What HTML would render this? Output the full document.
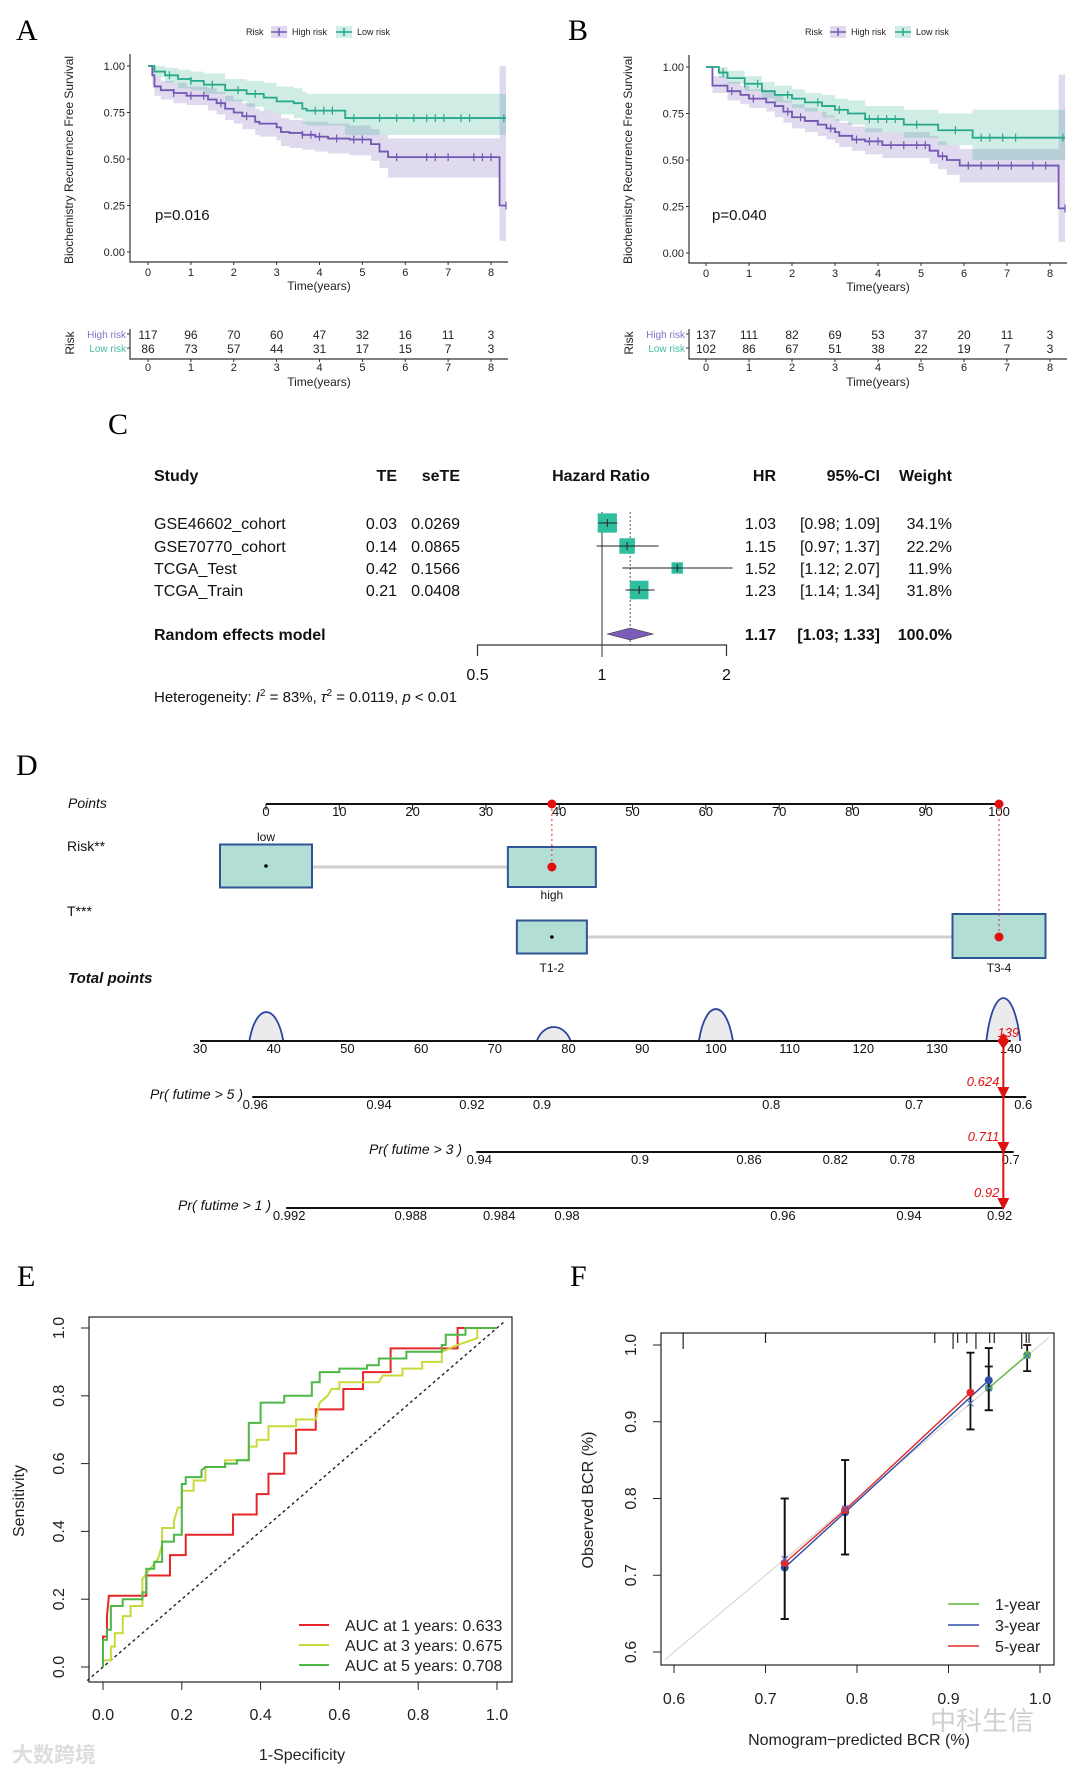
<!DOCTYPE html>
<html><head><meta charset="utf-8"><style>
html,body{margin:0;padding:0;background:#fff;}
svg{display:block;}
text{font-family:"Liberation Sans","Noto Sans CJK SC",sans-serif;}
.serif{font-family:"Liberation Serif",serif;}
</style></head><body>
<svg id="fig" width="1080" height="1775" viewBox="0 0 1080 1775" xmlns="http://www.w3.org/2000/svg"></svg>
<script>
// ---------- DATA ----------
const kmTicks = [0,1,2,3,4,5,6,7,8];
const survTicks = [0,0.25,0.5,0.75,1.0];
// Panel A
const aHighT  = [0,0.1,0.15,0.3,0.6,0.9,1.4,1.6,1.8,2.0,2.2,2.5,2.6,3.0,3.1,3.3,3.6,3.9,4.2,4.7,5.2,5.4,5.6,8.2];
const aHighS  = [1,0.95,0.89,0.87,0.855,0.84,0.82,0.80,0.77,0.75,0.73,0.70,0.69,0.67,0.645,0.64,0.63,0.62,0.61,0.605,0.58,0.54,0.51,0.25];
const aHighLo = [1,0.90,0.84,0.82,0.80,0.79,0.76,0.74,0.71,0.69,0.66,0.63,0.62,0.60,0.57,0.56,0.55,0.54,0.53,0.52,0.49,0.45,0.40,0.06];
const aHighHi = [1,0.99,0.94,0.92,0.91,0.89,0.88,0.86,0.84,0.82,0.80,0.77,0.76,0.74,0.72,0.71,0.70,0.70,0.69,0.68,0.66,0.63,0.61,1.0];
const aLowT  = [0,0.15,0.4,0.7,1.0,1.3,1.8,2.3,2.7,3.0,3.4,3.6,3.7,4.6];
const aLowS  = [1,0.97,0.95,0.93,0.92,0.90,0.87,0.85,0.83,0.81,0.80,0.77,0.76,0.72];
const aLowLo = [1,0.94,0.91,0.88,0.87,0.85,0.81,0.78,0.76,0.74,0.72,0.69,0.68,0.63];
const aLowHi = [1,1,0.99,0.98,0.97,0.96,0.93,0.92,0.91,0.89,0.88,0.86,0.85,0.85];
const aHighCens = [0.6,1.0,1.3,1.7,2.3,3.6,3.8,4.0,4.4,4.8,5.0,5.8,6.5,6.7,7.0,7.6,7.8,8.0,8.35];
const aLowCens  = [0.5,1.0,1.5,2.1,2.5,3.9,4.1,4.3,4.8,5.4,5.8,6.2,6.5,6.7,6.9,7.3,7.5,8.3];
const aHighRisk = [117,96,70,60,47,32,16,11,3];
const aLowRisk  = [86,73,57,44,31,17,15,7,3];
// Panel B
const bHighT  = [0,0.15,0.5,0.8,1.0,1.4,1.6,1.8,2.0,2.3,2.6,2.8,3.0,3.1,3.4,3.7,4.1,5.2,5.4,5.6,5.9,8.2];
const bHighS  = [1,0.90,0.87,0.85,0.83,0.81,0.79,0.76,0.73,0.71,0.69,0.67,0.65,0.63,0.61,0.60,0.58,0.55,0.52,0.50,0.47,0.24];
const bHighLo = [1,0.86,0.82,0.80,0.78,0.76,0.73,0.70,0.67,0.65,0.63,0.61,0.59,0.57,0.55,0.53,0.51,0.48,0.45,0.42,0.38,0.06];
const bHighHi = [1,0.95,0.92,0.90,0.88,0.87,0.85,0.82,0.80,0.78,0.76,0.74,0.72,0.70,0.68,0.67,0.65,0.63,0.60,0.58,0.56,0.96];
const bLowT  = [0,0.3,0.5,0.9,1.3,1.6,2.0,2.3,2.7,3.0,3.3,3.7,4.6,5.4,6.2];
const bLowS  = [1,0.97,0.94,0.91,0.87,0.85,0.83,0.81,0.79,0.77,0.75,0.72,0.69,0.66,0.62];
const bLowLo = [1,0.94,0.91,0.87,0.83,0.81,0.78,0.76,0.73,0.71,0.69,0.65,0.62,0.58,0.50];
const bLowHi = [1,1,0.98,0.95,0.92,0.90,0.88,0.86,0.85,0.83,0.82,0.79,0.77,0.75,0.77];
const bHighCens = [0.6,1.1,1.9,2.2,2.9,3.5,3.8,4.0,4.3,4.6,4.9,5.1,5.5,6.1,6.4,6.8,7.1,7.6,7.9,8.35];
const bLowCens  = [0.4,0.9,1.2,1.9,2.6,3.1,3.8,4.0,4.2,4.4,4.9,5.8,6.4,6.6,6.9,7.2,8.3];
const bHighRisk = [137,111,82,69,53,37,20,11,3];
const bLowRisk  = [102,86,67,51,38,22,19,7,3];
// Panel C (forest)
const studies = ["GSE46602_cohort","GSE70770_cohort","TCGA_Test","TCGA_Train"];
const teVals = ["0.03","0.14","0.42","0.21"];
const seteVals = ["0.0269","0.0865","0.1566","0.0408"];
const hrVals = [1.03,1.15,1.52,1.23];
const ciLo = [0.98,0.97,1.12,1.14];
const ciHi = [1.09,1.37,2.07,1.34];
const weights = [34.1,22.2,11.9,31.8];
const pooledHR = 1.17, pooledLo = 1.03, pooledHi = 1.33;
const forestTicks = [0.5,1,2];
// Panel D (nomogram)
const pointTicks = [0,10,20,30,40,50,60,70,80,90,100];
const riskPoints = [0,39];
const tPoints = [39,100];
const totalTicks = [30,40,50,60,70,80,90,100,110,120,130,140];
const humpCenters = [39,78,100,139];
const humpHeights = [29,14,32,43];
const pr5Labels = ["0.96","0.94","0.92","0.9","0.8","0.7","0.6"];
const pr5At = [37.5,54.3,66.9,76.4,107.5,126.9,141.7];
const pr3Labels = ["0.94","0.9","0.86","0.82","0.78","0.7"];
const pr3At = [67.9,89.7,104.5,116.2,125.3,140.0];
const pr1Labels = ["0.992","0.988","0.984","0.98","0.96","0.94","0.92"];
const pr1At = [42.1,58.6,70.6,79.8,109.1,126.2,138.5];
const totalScore = 139;
const predVals = ["0.624","0.711","0.92"];
// Panel E (ROC)
const rocTicks = [0,0.2,0.4,0.6,0.8,1.0];
const roc1x = [0,0,0.01,0.01,0.015,0.11,0.11,0.17,0.17,0.21,0.21,0.33,0.33,0.39,0.39,0.42,0.42,0.46,0.46,0.49,0.49,0.54,0.54,0.61,0.61,0.66,0.66,0.73,0.73,0.90,0.90,0.92,1];
const roc1y = [0,0.09,0.09,0.15,0.21,0.21,0.27,0.27,0.33,0.33,0.39,0.39,0.45,0.45,0.51,0.51,0.57,0.57,0.63,0.63,0.70,0.70,0.76,0.76,0.82,0.82,0.87,0.87,0.94,0.94,1.0,1.0,1];
const roc3x = [0,0,0.02,0.02,0.03,0.03,0.05,0.05,0.07,0.07,0.1,0.1,0.12,0.14,0.15,0.15,0.18,0.18,0.19,0.2,0.2,0.23,0.23,0.26,0.26,0.31,0.31,0.37,0.37,0.39,0.39,0.42,0.42,0.49,0.49,0.54,0.55,0.57,0.58,0.6,0.6,0.7,0.71,0.76,0.76,0.81,0.81,0.86,0.86,0.9,0.95,0.95,1];
const roc3y = [0,0.02,0.02,0.06,0.06,0.10,0.10,0.15,0.15,0.18,0.18,0.26,0.29,0.32,0.36,0.41,0.41,0.43,0.47,0.47,0.52,0.52,0.55,0.55,0.59,0.59,0.61,0.61,0.65,0.65,0.67,0.67,0.71,0.71,0.73,0.73,0.78,0.80,0.82,0.82,0.84,0.84,0.86,0.86,0.88,0.88,0.90,0.90,0.93,0.95,0.97,1,1];
const roc5x = [0,0,0.01,0.01,0.02,0.02,0.05,0.05,0.1,0.1,0.11,0.11,0.13,0.13,0.15,0.15,0.18,0.18,0.2,0.2,0.21,0.21,0.25,0.25,0.26,0.31,0.31,0.34,0.34,0.37,0.37,0.4,0.4,0.46,0.46,0.53,0.53,0.55,0.55,0.6,0.6,0.67,0.67,0.7,0.7,0.77,0.77,0.86,0.86,0.87,0.87,0.92,0.92,1];
const roc5y = [0,0.08,0.08,0.11,0.11,0.18,0.18,0.20,0.20,0.22,0.22,0.29,0.29,0.31,0.31,0.37,0.37,0.39,0.39,0.54,0.54,0.56,0.56,0.58,0.59,0.59,0.60,0.60,0.61,0.61,0.72,0.72,0.78,0.78,0.80,0.80,0.84,0.84,0.87,0.87,0.88,0.88,0.89,0.89,0.91,0.91,0.93,0.93,0.95,0.95,0.98,0.98,1,1];
const rocLabels = ["AUC at 1 years: 0.633","AUC at 3 years: 0.675","AUC at 5 years: 0.708"];
// Panel F (calibration)
const calTicks = [0.6,0.7,0.8,0.9,1.0];
const cal5Pred = [0.721,0.787,0.924];
const cal5Obs  = [0.716,0.785,0.938];
const cal5Lo   = [0.643,0.727,0.890];
const cal5Hi   = [0.800,0.850,0.990];
const cal3Pred = [0.721,0.787,0.944];
const cal3Obs  = [0.710,0.782,0.954];
const cal3Lo   = [0.643,0.727,0.915];
const cal3Hi   = [0.800,0.850,0.996];
const cal1Pred = [0.944,0.986];
const cal1Obs  = [0.944,0.987];
const cal1Lo   = [0.915,0.966];
const cal1Hi   = [0.972,1.000];
const rugVals = [0.61,0.70,0.885,0.905,0.91,0.92,0.93,0.945,0.95,0.98,0.985,0.988];
const calLabels = ["1-year","3-year","5-year"];

// ---------- HELPERS ----------
const NS = "http://www.w3.org/2000/svg";
const root = document.getElementById('fig');
function mk(tag, parent){ const e=document.createElementNS(NS,tag); (parent||root).appendChild(e); return e; }
function set(e, o){ for(const k in o) e.setAttribute(k,o[k]); return e; }
function txt(parent, s, x, y, size, opts){
  const t = mk('text', parent);
  set(t,{x:x,y:y,'font-size':size});
  if(opts) set(t,opts);
  t.textContent = s;
  return t;
}
function grp(name){ const g=mk('g');   return g; }

const PURPLE="#7357b3", TEAL="#26a88a";

// ---------- Panel letters ----------
[["A",16,40],["B",568,40],["C",108,434],["D",16,775],["E",17,1286],["F",570,1286]].forEach(p=>{
  const t = txt(root,p[0],p[1],p[2],30,{class:'serif'});
  
  
});

// ---------- KM panels ----------
function kmPanel(name, G, high, low, highCens, lowCens, highRisk, lowRisk, pval){
  const g = grp(name);
  const sx = t => G.x0 + (G.x8-G.x0)*t/8;
  const sy = s => G.y0 - (G.y0-G.y1)*s;
  const tEnd = 8.35;
  function band(T, lo, hi, col, nm){
    let d = "M"+sx(T[0])+","+sy(hi[0]);
    for(let i=1;i<T.length;i++) d += "H"+sx(T[i])+"V"+sy(hi[i]);
    d += "H"+sx(tEnd)+"V"+sy(lo[lo.length-1]);
    for(let i=T.length-1;i>0;i--) d += "H"+sx(T[i])+"V"+sy(lo[i-1]);
    d += "H"+sx(T[0])+"Z";
    const p = mk('path',g); set(p,{d:d,fill:col,'fill-opacity':0.22,stroke:'none'});
    
    
  }
  function curve(T,S,col,nm,cens){
    let d = "M"+sx(T[0])+","+sy(S[0]);
    for(let i=1;i<T.length;i++) d += "H"+sx(T[i])+"V"+sy(S[i]);
    d += "H"+sx(tEnd);
    const p = mk('path',g); set(p,{d:d,fill:'none',stroke:col,'stroke-width':1.8});
    
    
    cens.forEach(c=>{
      let s=S[0]; for(let i=0;i<T.length;i++) if(T[i]<=c) s=S[i];
      const l = mk('path',g); set(l,{d:"M"+sx(c)+","+(sy(s)-4)+"v8",stroke:col,'stroke-width':1.2});
      
      
    });
  }
  band(high.t, high.lo, high.hi, PURPLE, 'high-risk-ci-band');
  band(low.t, low.lo, low.hi, TEAL, 'low-risk-ci-band');
  curve(high.t, high.s, PURPLE, 'high-risk-curve', highCens);
  curve(low.t, low.s, TEAL, 'low-risk-curve', lowCens);
  const ax = mk('path',g); set(ax,{d:"M"+G.left+","+(G.y1-12)+"V"+G.bottom+"H"+G.right,fill:'none',stroke:'#333','stroke-width':1.2});
   
  survTicks.forEach(v=>{
    const l=mk('path',g); set(l,{d:"M"+(G.left-3)+","+sy(v)+"H"+G.left,stroke:'#333'});
    const t=txt(g,v.toFixed(2),G.left-5,sy(v)+4,11,{'text-anchor':'end',fill:'#222'});
     
  });
  kmTicks.forEach(v=>{
    const l=mk('path',g); set(l,{d:"M"+sx(v)+","+G.bottom+"v3",stroke:'#333'});
    const t=txt(g,String(v),sx(v),G.bottom+14,11,{'text-anchor':'middle',fill:'#222'});
     
  });
  let t=txt(g,"Time(years)",(G.left+G.right)/2,G.bottom+28,12,{'text-anchor':'middle',fill:'#222'});
   
  t=txt(g,"Biochemistry Recurrence Free Survival",0,0,12,{'text-anchor':'middle',fill:'#222',transform:"translate("+(G.left-57)+",160) rotate(-90)"});
   
  t=txt(g,pval,G.pvx,220,15,{fill:'#111'});
   
  const lg = mk('g',g);  
  txt(lg,"Risk",G.leg,35,9,{fill:'#222'});
  [[PURPLE,"High risk",G.leg+25],[TEAL,"Low risk",G.leg+90]].forEach(e=>{
    const r=mk('rect',lg); set(r,{x:e[2],y:26,width:16,height:12,fill:e[0],'fill-opacity':0.22});
    const l=mk('path',lg); set(l,{d:"M"+e[2]+",32h16M"+(e[2]+8)+",28v8",stroke:e[0],'stroke-width':1.5});
    const tt=txt(lg,e[1],e[2]+21,35,9,{fill:'#222'});
     
  });
  const tb = mk('g',g);  
  txt(tb,"High risk",G.left-4,338,10,{'text-anchor':'end',fill:'#8a6fc8'});
  txt(tb,"Low risk",G.left-4,352,10,{'text-anchor':'end',fill:'#3fbf9f'});
  txt(tb,"Risk",0,0,12,{'text-anchor':'middle',fill:'#222',transform:"translate("+(G.left-56)+",343) rotate(-90)"});
  const tl=mk('path',tb); set(tl,{d:"M"+G.left+",329V359H"+G.right,fill:'none',stroke:'#333','stroke-width':1.2});
  [338,352].forEach(y=>{const k=mk('path',tb); set(k,{d:"M"+(G.left-3)+","+(y-4)+"h3",stroke:'#333'});});
  highRisk.forEach((n,i)=>{ const c=txt(tb,String(n),sx(kmTicks[i]),339,12,{'text-anchor':'middle',fill:'#222'});   });
  lowRisk.forEach((n,i)=>{ const c=txt(tb,String(n),sx(kmTicks[i]),353,12,{'text-anchor':'middle',fill:'#222'});   });
  kmTicks.forEach(v=>{
    const l=mk('path',tb); set(l,{d:"M"+sx(v)+",359v3",stroke:'#333'});
    txt(tb,String(v),sx(v),371,11,{'text-anchor':'middle',fill:'#222'});
  });
  txt(tb,"Time(years)",(G.left+G.right)/2,386,12,{'text-anchor':'middle',fill:'#222'});
}
kmPanel('km-panel-a',{x0:148,x8:491,y1:66,y0:252,left:130,bottom:262,right:508,pvx:155,leg:246},
  {t:aHighT,s:aHighS,lo:aHighLo,hi:aHighHi},{t:aLowT,s:aLowS,lo:aLowLo,hi:aLowHi},aHighCens,aLowCens,aHighRisk,aLowRisk,"p=0.016");
kmPanel('km-panel-b',{x0:706,x8:1050,y1:67,y0:253,left:689,bottom:263,right:1067,pvx:712,leg:805},
  {t:bHighT,s:bHighS,lo:bHighLo,hi:bHighHi},{t:bLowT,s:bLowS,lo:bLowLo,hi:bLowHi},bHighCens,bLowCens,bHighRisk,bLowRisk,"p=0.040");

// ---------- Panel C forest ----------
(function(){
  const g = grp('forest-plot');
  const fx = v => 602 + 124.5*Math.log2(v);
  const rowY = [523,546,568,590];
  const F = 16;
  const hdr = [["Study",154,'start'],["TE",397,'end'],["seTE",460,'end'],["Hazard Ratio",601,'middle'],["HR",776,'end'],["95%-CI",880,'end'],["Weight",952,'end']];
  hdr.forEach(h=>{ const t=txt(g,h[0],h[1],481,F,{'text-anchor':h[2],'font-weight':'bold',fill:'#111'});   });
  let l=mk('path',g); set(l,{d:"M"+fx(1)+",512V657",stroke:'#333','stroke-width':1});
   
  l=mk('path',g); set(l,{d:"M"+fx(pooledHR)+",512V645",stroke:'#555','stroke-width':1,'stroke-dasharray':'2,2'});
   
  studies.forEach((s,i)=>{
    const y=rowY[i];
    txt(g,s,154,y+6,F,{fill:'#111'});
    txt(g,teVals[i],397,y+6,F,{'text-anchor':'end',fill:'#111'});
    txt(g,seteVals[i],460,y+6,F,{'text-anchor':'end',fill:'#111'});
    txt(g,hrVals[i].toFixed(2),776,y+6,F,{'text-anchor':'end',fill:'#111'});
    txt(g,"["+ciLo[i].toFixed(2)+"; "+ciHi[i].toFixed(2)+"]",880,y+6,F,{'text-anchor':'end',fill:'#111'});
    txt(g,weights[i].toFixed(1)+"%",952,y+6,F,{'text-anchor':'end',fill:'#111'});
    const side = 3.3*Math.sqrt(weights[i]);
    const b=mk('rect',g); set(b,{x:fx(hrVals[i])-side/2,y:y-side/2,width:side,height:side,fill:'#2fbf9f'});
     
    const c=mk('path',g); set(c,{d:"M"+fx(ciLo[i])+","+y+"H"+fx(ciHi[i])+"M"+fx(hrVals[i])+","+(y-4)+"v8",stroke:'#222','stroke-width':1});
     
  });
  const py=634;
  const d=mk('path',g); set(d,{d:"M"+fx(pooledLo)+","+py+"L"+fx(pooledHR)+","+(py-6)+"L"+fx(pooledHi)+","+py+"L"+fx(pooledHR)+","+(py+6)+"Z",fill:'#7b5cb8',stroke:'#333','stroke-width':0.6});
   
  txt(g,"Random effects model",154,py+6,F,{'font-weight':'bold',fill:'#111'});
  txt(g,pooledHR.toFixed(2),776,py+6,F,{'text-anchor':'end','font-weight':'bold',fill:'#111'});
  txt(g,"["+pooledLo.toFixed(2)+"; "+pooledHi.toFixed(2)+"]",880,py+6,F,{'text-anchor':'end','font-weight':'bold',fill:'#111'});
  txt(g,"100.0%",952,py+6,F,{'text-anchor':'end','font-weight':'bold',fill:'#111'});
  const ax=mk('path',g); set(ax,{d:"M"+fx(0.5)+",656V645H"+fx(2)+"V656",fill:'none',stroke:'#333','stroke-width':1.2});
   
  forestTicks.forEach(v=>{ const t=txt(g,String(v),fx(v),680,F,{'text-anchor':'middle',fill:'#111'});   });
  const h=txt(g,"",154,702,15,{fill:'#111'});
   
  h.innerHTML = 'Heterogeneity: <tspan font-style="italic">I</tspan><tspan dy="-6" font-size="10">2</tspan><tspan dy="6"> = 83%, </tspan><tspan font-style="italic">τ</tspan><tspan dy="-6" font-size="10">2</tspan><tspan dy="6"> = 0.0119, </tspan><tspan font-style="italic">p</tspan> &lt; 0.01';
})();

// ---------- Panel D nomogram ----------
(function(){
  const g = grp('nomogram');
  const px = p => 266 + p*7.33;
  const tx = p => 200 + (p-30)*7.37;
  const F=14;
  txt(g,"Points",68,808,F,{'font-style':'italic',fill:'#111'});
  txt(g,"Risk**",67,851,F,{fill:'#111'});
  txt(g,"T***",67,916,F,{fill:'#111'});
  txt(g,"Total points",68,983,F+1,{'font-style':'italic','font-weight':'bold',fill:'#111'});
  let l=mk('path',g); set(l,{d:"M"+px(0)+",804H"+px(100),stroke:'#111','stroke-width':2});
   
  pointTicks.forEach(v=>{ mk('path',g).setAttribute('d',"M"+px(v)+",804v6"); g.lastChild.setAttribute('stroke','#111');
    txt(g,String(v),px(v),816,13,{'text-anchor':'middle',fill:'#111'}); });
  function box(cx,cy,w,h,nm){ const r=mk('rect',g); set(r,{x:cx-w/2,y:cy-h/2,width:w,height:h,fill:'#b3ded6',stroke:'#2f5597','stroke-width':2});   }
  l=mk('path',g); set(l,{d:"M"+px(riskPoints[0])+",867H"+px(riskPoints[1]),stroke:'#cfcfcf','stroke-width':3});
  box(px(riskPoints[0]),866,92,43,'risk-low-box');
  box(px(riskPoints[1]),867,88,40,'risk-high-box');
  txt(g,"low",px(riskPoints[0]),841,12,{'text-anchor':'middle',fill:'#111'});
  txt(g,"high",px(riskPoints[1]),899,12,{'text-anchor':'middle',fill:'#111'});
  l=mk('path',g); set(l,{d:"M"+px(tPoints[0])+",937H"+px(tPoints[1]),stroke:'#cfcfcf','stroke-width':3});
  box(px(tPoints[0]),937,70,33,'t12-box');
  box(px(tPoints[1]),936,93,44,'t34-box');
  txt(g,"T1-2",px(tPoints[0]),972,12,{'text-anchor':'middle',fill:'#111'});
  txt(g,"T3-4",px(tPoints[1]),972,12,{'text-anchor':'middle',fill:'#111'});
  const cA=mk('circle',g); set(cA,{cx:px(riskPoints[0]),cy:866,r:1.8,fill:'#000'});
  const c0=mk('circle',g); set(c0,{cx:px(tPoints[0]),cy:937,r:1.8,fill:'#000'});
  [[riskPoints[1],867],[tPoints[1],937]].forEach(p=>{
    const d=mk('path',g); set(d,{d:"M"+px(p[0])+",804V"+p[1],stroke:'#e22','stroke-width':1,'stroke-dasharray':'2,3'});
     
    const c=mk('circle',g); set(c,{cx:px(p[0]),cy:p[1],r:4.5,fill:'#e01010'});
     
    const c2=mk('circle',g); set(c2,{cx:px(p[0]),cy:804,r:4.5,fill:'#e01010'});
  });
  humpCenters.forEach((hc,i)=>{
    const x=tx(hc), h=humpHeights[i], w=17;
    const d=mk('path',g); set(d,{d:"M"+(x-w)+",1041C"+(x-w*0.6)+","+(1041-h*1.33)+" "+(x+w*0.6)+","+(1041-h*1.33)+" "+(x+w)+",1041",fill:'#ebebeb',stroke:'#2a46a0','stroke-width':1.8});
     
  });
  l=mk('path',g); set(l,{d:"M"+tx(30)+",1041H"+tx(140),stroke:'#111','stroke-width':2});
   
  totalTicks.forEach(v=>txt(g,String(v),tx(v),1053,13,{'text-anchor':'middle',fill:'#111'}));
  function prAxis(labels, at, y, title, titleX, nm){
    const a=mk('path',g); set(a,{d:"M"+(tx(at[0])-3)+","+y+"H"+(tx(at[at.length-1])+3),stroke:'#111','stroke-width':2});
     
    labels.forEach((s,i)=>txt(g,s,tx(at[i]),y+12,13,{'text-anchor':'middle',fill:'#111'}));
    txt(g,title,titleX,y+2,14,{'text-anchor':'end','font-style':'italic',fill:'#111'});
  }
  prAxis(pr5Labels,pr5At,1097,"Pr( futime > 5 )",243,'pr5-axis');
  prAxis(pr3Labels,pr3At,1152,"Pr( futime > 3 )",462,'pr3-axis');
  prAxis(pr1Labels,pr1At,1208,"Pr( futime > 1 )",271,'pr1-axis');
  const X=tx(totalScore);
  l=mk('path',g); set(l,{d:"M"+X+",1041V1208",stroke:'#e01010','stroke-width':2});
   
  const dm=mk('path',g); set(dm,{d:"M"+X+",1033l6,8l-6,8l-6,-8z",fill:'#e01010'});
  [1097,1152,1208].forEach((y,i)=>{
    const a=mk('path',g); set(a,{d:"M"+(X-6)+","+(y-10)+"h12l-6,12z",fill:'#e01010'});
     
    const t=txt(g,predVals[i],X-4,y-11,13,{'text-anchor':'end','font-style':'italic',fill:'#e01010'});
     
  });
  txt(g,String(totalScore),X+5,1037,13,{'text-anchor':'middle','font-style':'italic',fill:'#e01010'});
})();

// ---------- Panel E ROC ----------
(function(){
  const g = grp('roc-plot');
  g.setAttribute('transform','translate(0,6)');
  const sx = v => 103 + 394*v, sy = v => 1661 - 339*v;
  const b=mk('rect',g); set(b,{x:89,y:1311,width:423,height:365,fill:'none',stroke:'#222','stroke-width':1.2});
   
  const dg=mk('path',g); set(dg,{d:"M"+(sx(-0.04))+","+sy(-0.04)+"L"+sx(1.02)+","+sy(1.02),stroke:'#222','stroke-width':1.4,'stroke-dasharray':'3,3'});
   
  rocTicks.forEach(v=>{
    mk('path',g).setAttribute('d',"M"+sx(v)+",1676v8"); g.lastChild.setAttribute('stroke','#222');
    const t=txt(g,v.toFixed(1),sx(v),1714,16,{'text-anchor':'middle',fill:'#222'});  
    mk('path',g).setAttribute('d',"M89,"+sy(v)+"h-8"); g.lastChild.setAttribute('stroke','#222');
    const u=txt(g,v.toFixed(1),0,0,16,{'text-anchor':'middle',fill:'#222',transform:"translate(64,"+sy(v)+") rotate(-90)"});  
  });
  txt(g,"1-Specificity",302,1754,16,{'text-anchor':'middle',fill:'#222'});
  txt(g,"Sensitivity",0,0,16,{'text-anchor':'middle',fill:'#222',transform:"translate(24,1495) rotate(-90)"});
  const cols=["#e8262a","#c9d93a","#4db848"];
  [[roc1x,roc1y],[roc3x,roc3y],[roc5x,roc5y]].forEach((s,k)=>{
    const d=s[0].map((x,i)=>(i?"L":"M")+sx(x)+","+sy(s[1][i])).join("");
    const p=mk('path',g); set(p,{d:d,fill:'none',stroke:cols[k],'stroke-width':2});
     
  });
  rocLabels.forEach((s,k)=>{
    const y=1619+k*20;
    mk('path',g).setAttribute('d',"M299,"+y+"h30"); set(g.lastChild,{stroke:cols[k],'stroke-width':2});
    const t=txt(g,s,345,y+6,16,{fill:'#222'});  
  });
  const w=txt(g,"大数跨境",12,1756,21,{fill:'#ddd','font-weight':'bold'});
   
})();

// ---------- Panel F calibration ----------
(function(){
  const g = grp('calibration-plot');
  const sx = v => 674 + 915*(v-0.6), sy = v => 1652 - 767.5*(v-0.6);
  const dg=mk('path',g); set(dg,{d:"M"+sx(0.59)+","+sy(0.59)+"L"+sx(1.01)+","+sy(1.01),stroke:'#d8d8d8','stroke-width':1.2});
  const b=mk('rect',g); set(b,{x:661,y:1333,width:393,height:332,fill:'none',stroke:'#222','stroke-width':1.2});
   
  rugVals.forEach((v,i)=>{ const r=mk('path',g); set(r,{d:"M"+sx(v)+",1333v"+(i%3===0?16:10),stroke:'#222','stroke-width':1.2});   });
  calTicks.forEach(v=>{
    mk('path',g).setAttribute('d',"M"+sx(v)+",1665v8"); g.lastChild.setAttribute('stroke','#222');
    const t=txt(g,v.toFixed(1),sx(v),1704,16,{'text-anchor':'middle',fill:'#222'});  
    mk('path',g).setAttribute('d',"M661,"+sy(v)+"h-8"); g.lastChild.setAttribute('stroke','#222');
    const u=txt(g,v.toFixed(1),0,0,16,{'text-anchor':'middle',fill:'#222',transform:"translate(636,"+sy(v)+") rotate(-90)"});  
  });
  txt(g,"Nomogram−predicted BCR (%)",859,1745,16,{'text-anchor':'middle',fill:'#222'});
  txt(g,"Observed BCR (%)",0,0,16,{'text-anchor':'middle',fill:'#222',transform:"translate(593,1500) rotate(-90)"});
  const sets=[[cal1Pred,cal1Obs,cal1Lo,cal1Hi,"#5cb83c","1yr"],[cal3Pred,cal3Obs,cal3Lo,cal3Hi,"#2f4fa8","3yr"],[cal5Pred,cal5Obs,cal5Lo,cal5Hi,"#e32a2a","5yr"]];
  sets.forEach(s=>{
    const d=s[0].map((x,i)=>(i?"L":"M")+sx(x)+","+sy(s[1][i])).join("");
    const p=mk('path',g); set(p,{d:d,fill:'none',stroke:s[4],'stroke-width':1.4});
     
    s[0].forEach((x,i)=>{
      const e=mk('path',g); set(e,{d:"M"+sx(x)+","+sy(s[2][i])+"V"+sy(s[3][i])+"M"+(sx(x)-4)+","+sy(s[2][i])+"h8M"+(sx(x)-4)+","+sy(s[3][i])+"h8",stroke:'#111','stroke-width':1.8});
       
      const c=mk('circle',g); set(c,{cx:sx(x),cy:sy(s[1][i]),r:4,fill:s[4]});
       
      const xm=mk('path',g); set(xm,{d:"M"+(sx(x)-3)+","+(sy(x)-3)+"l6,6m0,-6l-6,6",stroke:'#4a6ad0','stroke-width':1});
    });
  });
  const lcols=["#5cb83c","#2f4fa8","#e32a2a"];
  calLabels.forEach((s,k)=>{
    const y=1604+k*21;
    mk('path',g).setAttribute('d',"M948,"+y+"h31"); set(g.lastChild,{stroke:lcols[k],'stroke-width':1.6});
    const t=txt(g,s,995,y+6,16,{fill:'#222'});  
  });
  const w=txt(g,"中科生信",930,1730,26,{fill:'#d0d0d0'});
   
})();
</script>
</body></html>
